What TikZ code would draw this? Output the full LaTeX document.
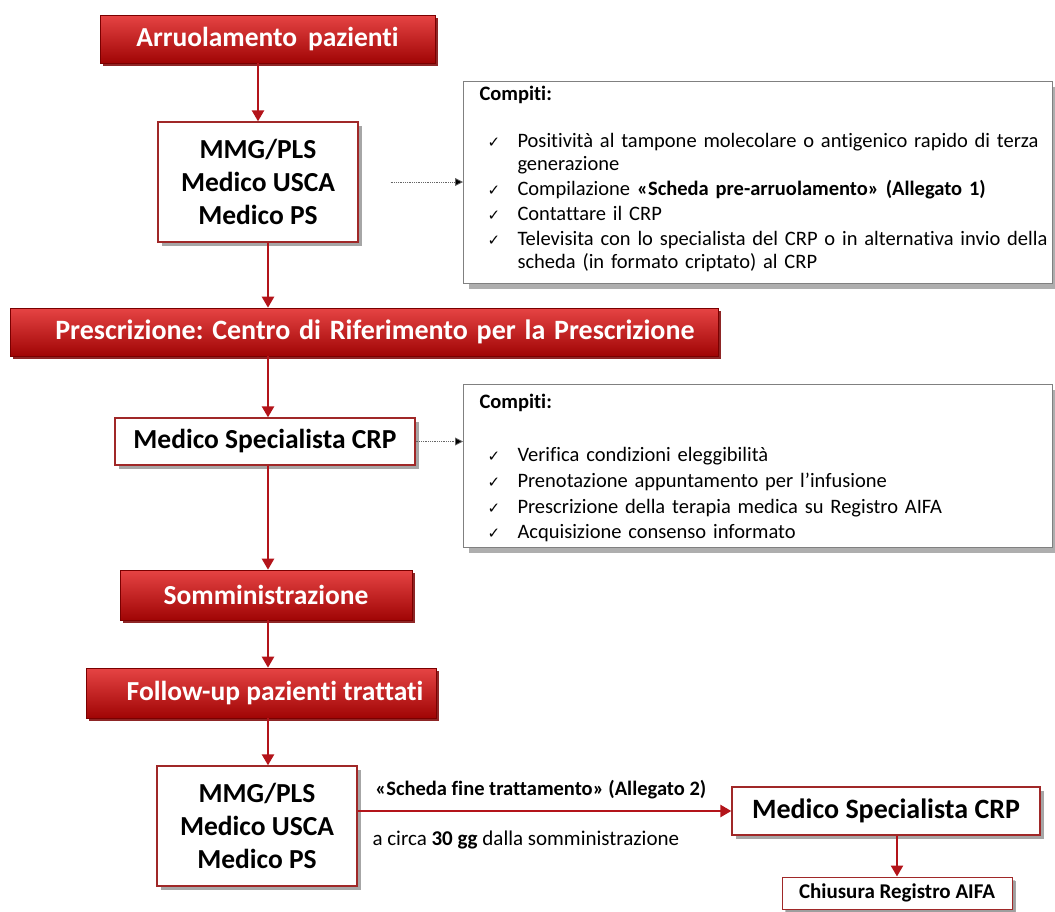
\documentclass[tikz,border=0pt]{standalone}
\usepackage{fontspec}
\setmainfont{Carlito}[Ligatures=NoCommon]
\newfontfamily\symfont{DejaVu Sans}
\usetikzlibrary{arrows.meta,shadows}

\definecolor{phasered}{HTML}{C80606}
\definecolor{phasetop}{HTML}{E64444}
\definecolor{phasedark}{HTML}{7A0000}
\definecolor{flowred}{HTML}{B3141A}
\definecolor{actorline}{HTML}{A02828}

\newcommand\chk{\hspace*{8pt}{\symfont\fontsize{15}{15}\selectfont ✓}}

\tikzset{
	phase/.style={draw=phasedark, line width=0.6pt, top color=phasetop, middle color=phasered, bottom color=phasered!80!black, text=white, inner sep=0pt, font=\bfseries\fontsize{27.5}{30}\selectfont, drop shadow={shadow xshift=3pt, shadow yshift=-3pt, fill=phasedark, opacity=0.85}},
	actor/.style={draw=actorline, line width=1.3pt, fill=white, align=center, inner sep=0pt, font=\bfseries\fontsize{27.5}{33}\selectfont, drop shadow={shadow xshift=4pt, shadow yshift=-4pt, fill=black!50, opacity=0.7}},
	taskbox/.style={draw=black!50, line width=1pt, fill=white, anchor=north west, inner xsep=16pt, inner ysep=0pt, text width=557pt, align=left, font=\fontsize{20.5}{23}\selectfont, drop shadow={shadow xshift=5pt, shadow yshift=-5pt, fill=black!45, opacity=0.7}},
	flow/.style={draw=flowred, line width=2.4pt, -{Triangle[length=11pt,width=12pt]}},
	hint/.style={draw=black!60, densely dotted, line width=0.8pt, -{Triangle[length=8pt,width=8pt,fill=black]}}
}

\begin{document}
\begin{tikzpicture}[x=1pt,y=-1pt]
	\useasboundingbox (0,0) rectangle (1055,911);
	\coordinate (spine) at (268,0);

	\node[phase, minimum width=335pt, minimum height=48pt] (arruol) at (267.5,39) {Arruolamento\, pazienti};
	\node[actor, minimum width=200pt, minimum height=120pt] (actorA) at (258,182) {MMG/PLS\\Medico USCA\\Medico PS};
	\node[taskbox, text height=19pt, text depth=183pt] (tasksA) at (463,81) {%
		\begin{tabular}[t]{@{}p{38pt}@{}l@{}}
			\multicolumn{2}{@{}l@{}}{\textbf{Compiti:}}\\[24pt]
			\chk & Positività al tampone molecolare o antigenico rapido di terza\\
			& generazione\\[2pt]
			\chk & Compilazione \textbf{«Scheda pre-arruolamento» (Allegato 1)}\\[2pt]
			\chk & Contattare il CRP\\[2pt]
			\chk & Televisita con lo specialista del CRP o in alternativa invio della\\
			& scheda (in formato criptato) al CRP
		\end{tabular}};

	\node[phase, minimum width=708pt, minimum height=48pt, font=\bfseries\fontsize{28}{30}\selectfont] (presc) at (364,332) {\hspace*{22pt}\spaceskip=8.8pt Prescrizione:\ Centro di Riferimento per la Prescrizione};
	\node[actor, minimum width=300pt, minimum height=47pt] (crpA) at (265,441.5) {Medico Specialista CRP};
	\node[taskbox, text height=24pt, text depth=139pt] (tasksB) at (463,384) {%
		\begin{tabular}[t]{@{}p{38pt}@{}l@{}}
			\multicolumn{2}{@{}l@{}}{\textbf{Compiti:}}\\[30pt]
			\chk & Verifica condizioni eleggibilità\\[3pt]
			\chk & Prenotazione appuntamento per l’infusione\\[3pt]
			\chk & Prescrizione della terapia medica su Registro AIFA\\[2pt]
			\chk & Acquisizione consenso informato
		\end{tabular}};

	\node[phase, minimum width=292pt, minimum height=50pt] (somm) at (266,595) {Somministrazione};
	\node[phase, minimum width=350pt, minimum height=50pt] (follow) at (261,693) {\hspace*{28pt}Follow-up pazienti trattati};
	\node[actor, minimum width=200pt, minimum height=120pt] (actorB) at (257,826) {MMG/PLS\\Medico USCA\\Medico PS};
	\node[actor, minimum width=308pt, minimum height=48pt, font=\bfseries\fontsize{28}{33}\selectfont] (crpB) at (886,811) {Medico Specialista CRP};
	\node[actor, line width=1pt, minimum width=230pt, minimum height=32pt, font=\bfseries\fontsize{21}{24}\selectfont, drop shadow={shadow xshift=3pt, shadow yshift=-3pt, fill=black!40, opacity=0.6}] (close) at (897,893) {Chiusura Registro AIFA};

	\draw[flow] (arruol.south -| actorA) -- (actorA.north);
	\draw[flow] (actorA.south -| spine) -- (presc.north -| spine);
	\draw[flow] (presc.south -| spine) -- (crpA.north -| spine);
	\draw[flow] (crpA.south -| spine) -- (somm.north -| spine);
	\draw[flow] (somm.south -| spine) -- (follow.north -| spine);
	\draw[flow] (follow.south -| spine) -- (actorB.north -| spine);
	\draw[flow] (actorB.east |- crpB) -- node[above=8pt, pos=0.49, font=\bfseries\fontsize{20.5}{22}\selectfont] (sendlabel) {«Scheda fine trattamento» (Allegato 2)} node[below=15pt, pos=0.45, font=\fontsize{21}{23}\selectfont] (whenlabel) {a circa \textbf{30 gg} dalla somministrazione} (crpB.west);
	\draw[flow] (crpB.south -| close) -- (close.north);

	\draw[hint] ([xshift=32pt]actorA.east) -- (actorA.east -| tasksA.west);
	\draw[hint] (crpA.east) -- (crpA.east -| tasksB.west);
\end{tikzpicture}
\end{document}
